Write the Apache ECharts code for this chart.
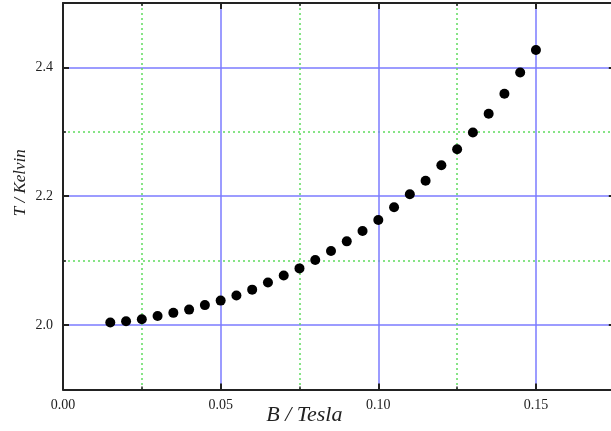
<!DOCTYPE html>
<html>
<head>
<meta charset="utf-8">
<script src="https://cdn.jsdelivr.net/npm/echarts@6/dist/echarts.min.js"></script>
<style>
  html, body { margin: 0; padding: 0; background: #fff; }
  #chart { width: 611px; height: 431px; }
</style>
</head>
<body>
<div id="chart"></div>
<script>
// B / Tesla  vs  T / Kelvin
const fieldB = [0.015, 0.020, 0.025, 0.030, 0.035, 0.040, 0.045, 0.050, 0.055, 0.060,
                0.065, 0.070, 0.075, 0.080, 0.085, 0.090, 0.095, 0.100, 0.105,
                0.110, 0.115, 0.120, 0.125, 0.130, 0.135, 0.140, 0.145, 0.150];
const tempT = [2.004, 2.006, 2.009, 2.014, 2.019, 2.024, 2.031, 2.038, 2.046, 2.055,
               2.066, 2.077, 2.088, 2.101, 2.115, 2.130, 2.146, 2.163, 2.183,
               2.203, 2.224, 2.248, 2.273, 2.299, 2.328, 2.359, 2.392, 2.427];
const xTickLabels = ['0.00', '0.05', '0.10', '0.15'];
const yTickLabels = ['2.0', '2.2', '2.4'];

const serif = 'Liberation Serif';
const blue = '#7b7bff';
const green = '#5fdc5f';
const axisCol = '#222';
const dots = [2, 3];

const points = fieldB.map((b, i) => [b, tempT[i]]);

// plot box: y 1.9..2.5 spans 386.5px, so 0.1 = 64.417px
const step = 386.5 / 6;

const xBase = {
  type: 'value', min: 0, max: 0.2, interval: 0.05, z: 5,
  axisLine: { lineStyle: { color: axisCol, width: 2 } },
  axisTick: { inside: true, length: 6, lineStyle: { color: axisCol, width: 2 } },
  minorTick: { show: true, splitNumber: 2, length: 3, lineStyle: { color: axisCol, width: 1.5 } }
};

// helper axis on the taller grid: 1.8..2.6 so the ticks start on a multiple of 0.2
const yGridBase = {
  type: 'value', gridIndex: 1, min: 1.8, max: 2.6, interval: 0.2, z: 4,
  axisLine: { show: false },
  axisTick: { inside: true, length: 6, lineStyle: { color: axisCol, width: 2 } },
  minorTick: { show: true, splitNumber: 2, length: 3, lineStyle: { color: axisCol, width: 1.5 } }
};

const chart = echarts.init(document.getElementById('chart'));
chart.setOption({
  animation: false,
  backgroundColor: '#fff',
  grid: [
    { left: 63, top: 3, bottom: 41.5, right: -82.6, outerBoundsMode: 'none', containLabel: false },
    { left: 63, top: 3 - step, bottom: 41.5 - step, right: -82.6, outerBoundsMode: 'none', containLabel: false }
  ],
  xAxis: [
    Object.assign({}, xBase, {
      position: 'bottom',
      name: 'B / Tesla', nameLocation: 'middle', nameGap: 15, nameMoveOverlap: false,
      nameTextStyle: { fontFamily: serif, fontStyle: 'italic', fontSize: 22, color: axisCol, padding: [0, 148, 0, 0] },
      axisLabel: {
        margin: 9, fontFamily: serif, fontSize: 14, color: axisCol,
        formatter: v => xTickLabels.find(t => Math.abs(parseFloat(t) - v) < 1e-9) || ''
      },
      splitLine: { show: true, lineStyle: { color: blue, width: 1.5 } },
      minorSplitLine: { show: true, lineStyle: { color: green, width: 1.5, type: dots } }
    }),
    Object.assign({}, xBase, {
      position: 'top', axisLabel: { show: false }, splitLine: { show: false }
    }),
    { type: 'value', gridIndex: 1, min: 0, max: 0.2, show: false }
  ],
  yAxis: [
    {
      type: 'value', gridIndex: 0, min: 1.9, max: 2.5, position: 'left', z: 5,
      axisLine: { lineStyle: { color: axisCol, width: 2 } },
      axisTick: { show: false }, axisLabel: { show: false }, splitLine: { show: false },
      name: 'T / Kelvin', nameLocation: 'middle', nameGap: 34, nameRotate: 90, nameMoveOverlap: false,
      nameTextStyle: { fontFamily: serif, fontStyle: 'italic', fontSize: 17, color: axisCol, padding: [0, 0, 0, 27] }
    },
    Object.assign({}, yGridBase, {
      position: 'left',
      axisLabel: {
        margin: 10, fontFamily: serif, fontSize: 14, color: axisCol,
        formatter: v => yTickLabels.find(t => Math.abs(parseFloat(t) - v) < 1e-9) || ''
      },
      splitLine: { show: true, lineStyle: { color: blue, width: 1.5 } },
      minorSplitLine: { show: true, lineStyle: { color: green, width: 1.5, type: dots } }
    }),
    Object.assign({}, yGridBase, {
      position: 'right', offset: -78.8, axisLabel: { show: false }, splitLine: { show: false }
    })
  ],
  series: [{
    type: 'scatter',
    xAxisIndex: 0,
    yAxisIndex: 0,
    data: points,
    symbolSize: 10,
    z: 10,
    itemStyle: { color: '#000', opacity: 1 }
  }]
});
</script>
</body>
</html>
